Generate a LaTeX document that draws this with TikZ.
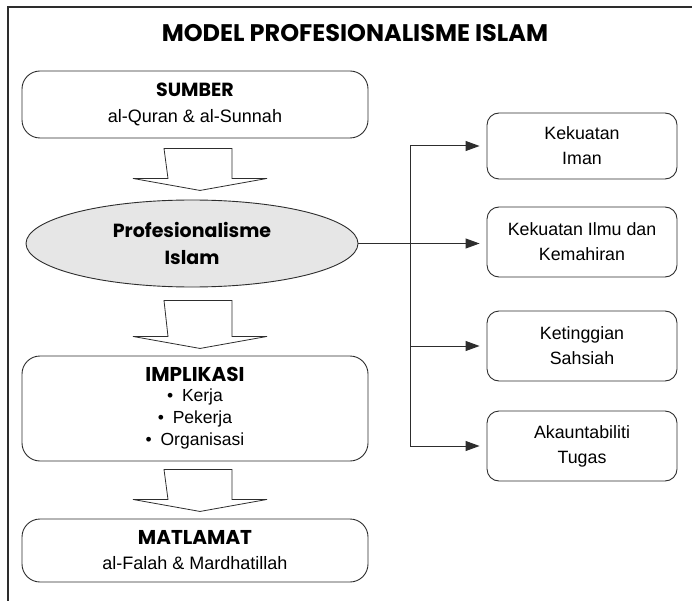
\documentclass[tikz,border=0pt]{standalone}
\usepackage{fontspec}
\usepackage{tikz}
\usetikzlibrary{shapes.geometric,arrows.meta}
\setmainfont{Liberation Sans}
\newfontfamily\headfont{Poppins}
\definecolor{lineclr}{RGB}{45, 45, 45}
\definecolor{ovalgray}{RGB}{230, 230, 230}

\begin{document}
\begin{tikzpicture}[x=1pt, y=-1pt,
  box/.style={draw=lineclr, line width=0.9pt, rounded corners=18pt, minimum width=346pt, align=center, inner sep=0pt, font=\fontsize{18}{21}\selectfont},
  sidebox/.style={draw=lineclr, line width=0.9pt, rounded corners=12pt, minimum width=190pt, align=center, inner sep=0pt, font=\fontsize{17.8}{25}\selectfont},
  head/.style={font=\headfont\bfseries\fontsize{19}{23}\selectfont},
  blockarrow/.style={draw=lineclr, line width=0.8pt, fill=white, line join=miter},
  link/.style={draw=lineclr, line width=1pt},
  tobox/.style={draw=lineclr, line width=1pt, -{Triangle[length=14pt,width=10pt]}, shorten >=7pt}]
\useasboundingbox (0,0) rectangle (692,601);

% Frame
\draw[lineclr, line width=1.8pt] (692,7) -- (8,7) -- (8,601);

% Title
\node[head, font=\headfont\bfseries\fontsize{24}{28}\selectfont] (title) at (355,33) {MODEL PROFESIONALISME ISLAM};

% Source
\node[box, minimum height=67pt] (sumber) at (195,104.5) {{\headfont\bfseries\fontsize{19}{23}\selectfont SUMBER}\\[5pt]al-Quran \& al-Sunnah};

% Core
\node[draw=lineclr, line width=0.9pt, fill=ovalgray, ellipse, minimum width=332pt, minimum height=87pt, inner sep=0pt, align=center, head, font=\headfont\bfseries\fontsize{19}{27}\selectfont] (profesi) at (192,243.5) {Profesionalisme\\Islam};

% Implications
\node[box, minimum height=105pt, font=\fontsize{17.5}{22}\selectfont] (implikasi) at (195,408.5) {{\headfont\bfseries\fontsize{20}{24}\selectfont IMPLIKASI}\\[-2pt]\textbullet\enspace Kerja\\\textbullet\enspace Pekerja\\\textbullet\enspace Organisasi};

% Goal
\node[box, minimum height=63pt] (matlamat) at (195,550.5) {{\headfont\bfseries\fontsize{20}{24}\selectfont MATLAMAT}\\[4pt]al-Falah \& Mardhatillah};

% Big arrows
\draw[blockarrow] (sumber.south) ++(-31,10) -- ++(68,0) -- ++(0,30) -- ++(35,0) -- ++(-67,12) -- ++(-67,-12) -- ++(35,0) -- cycle;
\draw[blockarrow] (profesi.south) ++(-28,13) -- ++(68,0) -- ++(0,36) -- ++(35,0) -- ++(-67,12) -- ++(-67,-12) -- ++(35,0) -- cycle;
\draw[blockarrow] (implikasi.south) ++(-31,8) -- ++(68,0) -- ++(0,30) -- ++(35,0) -- ++(-67,12) -- ++(-67,-12) -- ++(35,0) -- cycle;

% Components
\node[sidebox, minimum height=66pt] (iman) at (582,146) {Kekuatan\\Iman};
\node[sidebox, minimum height=70pt] (ilmu) at (582,242) {Kekuatan Ilmu dan\\Kemahiran};
\node[sidebox, minimum height=70pt] (sahsiah) at (582,346) {Ketinggian\\Sahsiah};
\node[sidebox, minimum height=70pt] (tugas) at (582,446) {Akauntabiliti\\Tugas};

% Branch lines
\coordinate (trunk) at (410,0);
\draw[link] (iman.west -| trunk) -- (tugas.west -| trunk);
\draw[tobox] (profesi.east) -- (profesi.east -| ilmu.west);
\draw[tobox] (iman.west -| trunk) -- (iman.west);
\draw[tobox] (sahsiah.west -| trunk) -- (sahsiah.west);
\draw[tobox] (tugas.west -| trunk) -- (tugas.west);
\end{tikzpicture}
\end{document}
